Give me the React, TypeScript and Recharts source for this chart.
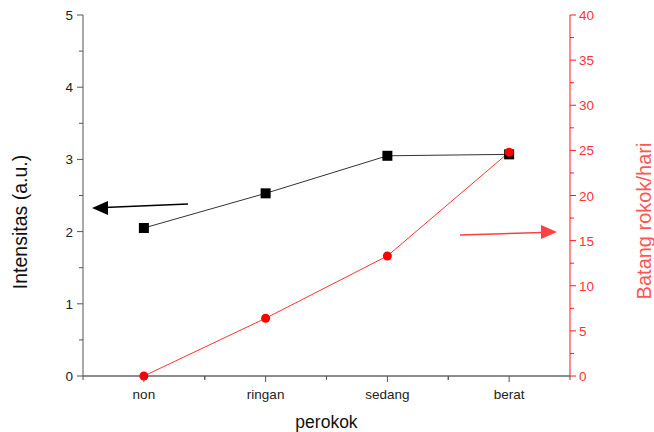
import React from 'react';
import { LineChart, Line, XAxis, YAxis, Customized } from 'recharts';

const categories = ['non', 'ringan', 'sedang', 'berat'];
const intensitas = [2.05, 2.53, 3.05, 3.07];
const batangRokok = [0, 6.4, 13.3, 24.8];
const leftTicks = [0, 0.5, 1, 1.5, 2, 2.5, 3, 3.5, 4, 4.5, 5];
const rightTicks = [0, 2.5, 5, 7.5, 10, 12.5, 15, 17.5, 20, 22.5, 25, 27.5, 30, 32.5, 35, 37.5, 40];

const data = categories.map((name, i) => ({
  name,
  intensitas: intensitas[i],
  batang: batangRokok[i],
}));

const W = 654;
const H = 432;
const LEFT_W = 83;
const RIGHT_W = 84;
const TOP = 15;
const X_H = 56;
const STEP = (W - LEFT_W - RIGHT_W) / categories.length;
const FONT = '"Liberation Sans", Arial, sans-serif';
const RED = '#ff1a1a';
const TICK_FS = 13.5;

const XTick = (props: any) => {
  const { x, y, payload } = props;
  return (
    <g>
      <line x1={x} y1={y} x2={x} y2={y + 6} stroke="#555" />
      <line x1={x - STEP / 2} y1={y} x2={x - STEP / 2} y2={y + 4} stroke="#555" />
      <line x1={x + STEP / 2} y1={y} x2={x + STEP / 2} y2={y + 4} stroke="#555" />
      <text x={x} y={y + 23} textAnchor="middle" fontSize={TICK_FS} fill="#222" fontFamily={FONT}>
        {payload.value}
      </text>
    </g>
  );
};

const LeftTick = (props: any) => {
  const { x, y, payload } = props;
  const major = Number.isInteger(payload.value);
  return (
    <g>
      <line x1={x} y1={y} x2={x - (major ? 6 : 4)} y2={y} stroke="#555" />
      {major && (
        <text x={x - 10} y={y + 5} textAnchor="end" fontSize={TICK_FS} fill="#222" fontFamily={FONT}>
          {payload.value}
        </text>
      )}
    </g>
  );
};

const RightTick = (props: any) => {
  const { x, y, payload } = props;
  const major = payload.value % 5 === 0;
  return (
    <g>
      <line x1={x} y1={y} x2={x + (major ? 6 : 4)} y2={y} stroke={RED} />
      {major && (
        <text x={x + 9} y={y + 5} textAnchor="start" fontSize={TICK_FS} fill="#ff3333" fontFamily={FONT}>
          {payload.value}
        </text>
      )}
    </g>
  );
};

const SquareDot = (props: any) => {
  const { cx, cy } = props;
  return <rect x={cx - 5} y={cy - 5} width={10} height={10} fill="#000" />;
};

const RoundDot = (props: any) => {
  const { cx, cy } = props;
  return <circle cx={cx} cy={cy} r={4.5} fill="#ff0000" />;
};

const LeftTitle = () => (
  <text
    x={20}
    y={222}
    transform="rotate(-90 20 222)"
    textAnchor="middle"
    dominantBaseline="central"
    fontSize={19.5}
    fill="#111"
    fontFamily={FONT}
  >
    Intensitas (a.u.)
  </text>
);

const RightTitle = () => (
  <text
    x={644}
    y={221}
    transform="rotate(-90 644 221)"
    textAnchor="middle"
    dominantBaseline="central"
    fontSize={20}
    fill="#ff5555"
    fontFamily={FONT}
  >
    Batang rokok/hari
  </text>
);

// pointer arrows next to each axis
const Arrows = () => (
  <g>
    <line x1={188} y1={204} x2={104} y2={207.5} stroke="#000" strokeWidth={1.5} />
    <polygon points="92,208 108,201 108,215" fill="#000" />
    <line x1={460} y1={235} x2={542} y2={232.5} stroke="#ff4040" strokeWidth={1.5} />
    <polygon points="557,232 541,225 541,239" fill="#ff4040" />
  </g>
);

export default function App() {
  return (
    <div style={{ position: 'absolute', left: 0, top: 0, width: W, height: H, background: '#fff' }}>
      <LineChart width={W} height={H} data={data} margin={{ top: TOP, right: 0, bottom: 0, left: 0 }}>
        <XAxis
          dataKey="name"
          height={X_H}
          padding={{ left: STEP / 2, right: STEP / 2 }}
          stroke="#666"
          strokeWidth={1.5}
          tickLine={false}
          tickSize={0}
          tickMargin={0}
          tick={<XTick />}
          interval={0}
          label={{ value: 'perokok', position: 'insideBottom', offset: 4, fontSize: 17.5, fill: '#111', fontFamily: FONT }}
        />
        <YAxis
          yAxisId="left"
          width={LEFT_W}
          domain={[0, 5]}
          ticks={leftTicks}
          interval={0}
          stroke="#555"
          tickLine={false}
          tickSize={0}
          tickMargin={0}
          tick={<LeftTick />}
        />
        <YAxis
          yAxisId="right"
          orientation="right"
          width={RIGHT_W}
          domain={[0, 40]}
          ticks={rightTicks}
          interval={0}
          stroke={RED}
          tickLine={false}
          tickSize={0}
          tickMargin={0}
          tick={<RightTick />}
        />
        <Line
          yAxisId="left"
          dataKey="intensitas"
          stroke="#333"
          strokeWidth={1}
          dot={<SquareDot />}
          activeDot={false}
          isAnimationActive={false}
        />
        <Line
          yAxisId="right"
          dataKey="batang"
          stroke="#ff3333"
          strokeWidth={1}
          dot={<RoundDot />}
          activeDot={false}
          isAnimationActive={false}
        />
        <Customized component={Arrows} />
        <Customized component={LeftTitle} />
        <Customized component={RightTitle} />
      </LineChart>
    </div>
  );
}
